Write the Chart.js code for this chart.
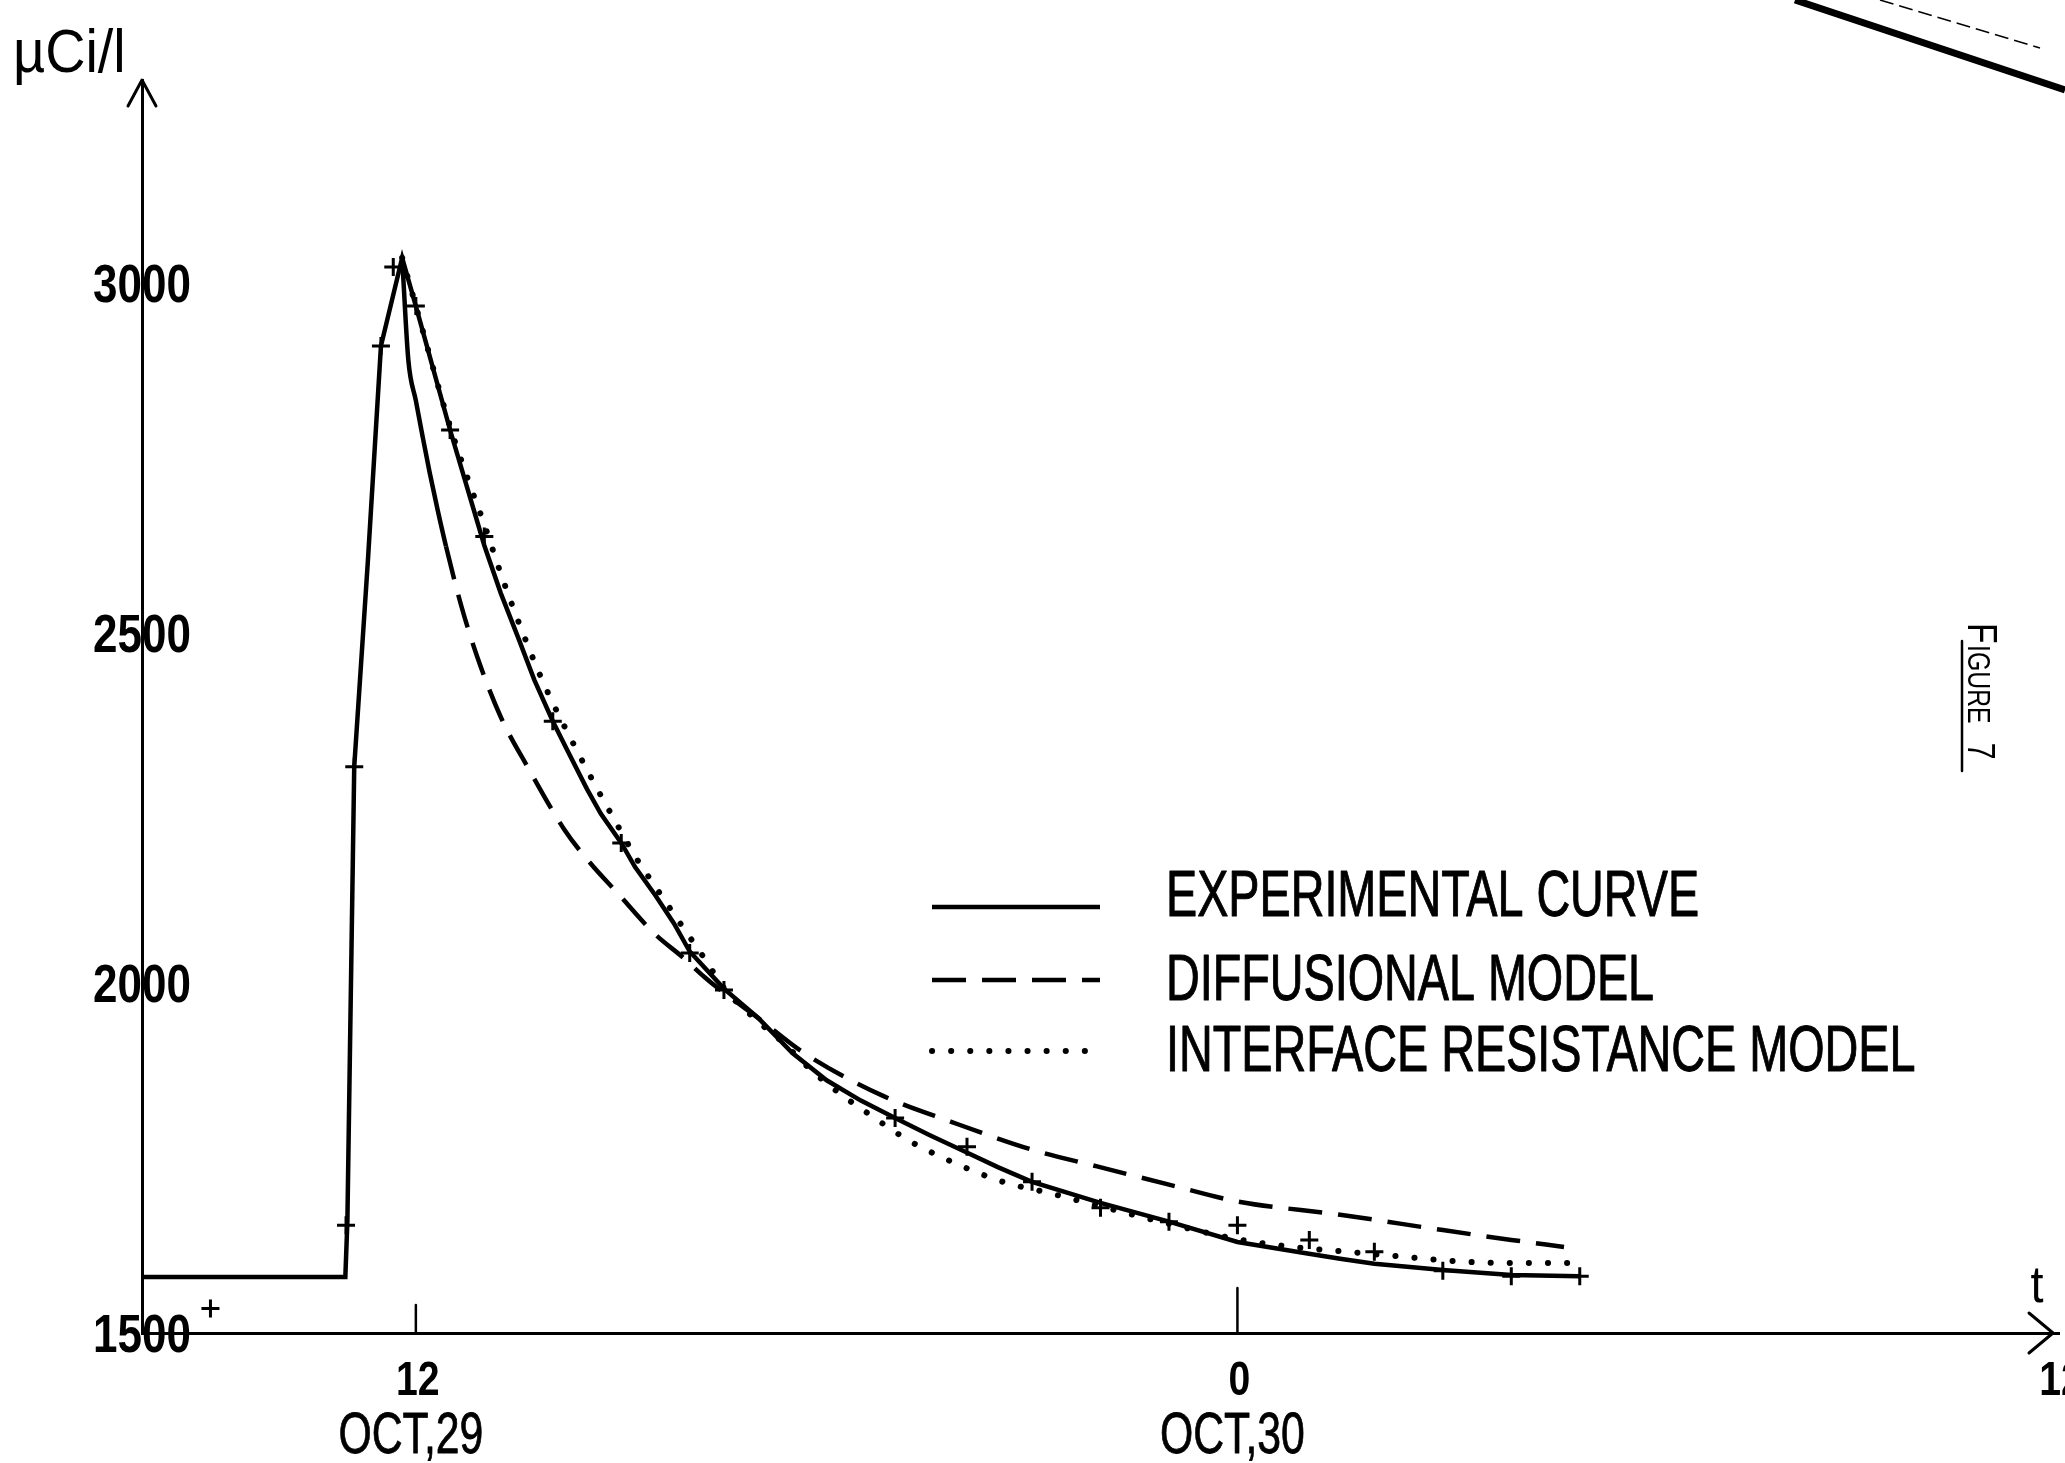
<!DOCTYPE html>
<html>
<head>
<meta charset="utf-8">
<title>Activity decay - Figure 7</title>
<script src="https://cdn.jsdelivr.net/npm/chart.js@4/dist/chart.umd.min.js"></script>
<style>
  html, body { margin: 0; padding: 0; background: #fff; }
  #wrap { position: relative; width: 2065px; height: 1463px; }
</style>
</head>
<body>
<div id="wrap"><canvas id="c" width="2065" height="1463"></canvas></div>
<script>
// Time in hours counted from Oct 29, 00:00; activity in µCi/l.
const expHours   = [8, 10.97, 11.0, 11.1, 11.3, 11.49, 11.8, 12.0, 12.5, 13.0, 13.24, 13.5, 13.73, 14.0, 14.21, 14.5, 14.7, 15.0, 15.2, 15.5, 15.77, 16.0, 16.5, 17.0, 17.5, 18.0, 18.5, 19.0, 19.5, 20.0, 20.5, 21.0, 22.0, 23.0, 24.0, 25.0, 25.5, 26.0, 27.0, 28.0, 29.0];
const expValues  = [1580, 1580, 1660, 2309, 2604, 2910, 3036, 2967, 2790, 2625, 2557, 2492, 2433, 2374, 2333, 2277, 2242, 2200, 2166, 2125, 2085, 2045, 1992, 1950, 1900, 1861, 1832, 1807, 1783, 1760, 1737, 1716, 1686, 1659, 1630, 1614, 1606, 1599, 1590, 1583, 1581];

const diffHours  = [11.8, 11.89, 12.0, 12.1, 12.2, 12.32, 12.44, 12.66, 12.9, 13.24, 13.63, 14.17, 14.55, 14.95, 15.48, 15.92, 16.21, 16.5, 17.0, 17.67, 18.84, 19.81, 21.03, 21.95, 23.0, 24.0, 25.5, 27.0, 28.0, 28.77];
const diffValues = [3036, 2890, 2832, 2780, 2730, 2675, 2624, 2540, 2465, 2380, 2309, 2219, 2171, 2128, 2071, 2035, 2009, 1986, 1950, 1900, 1838, 1802, 1761, 1738, 1712, 1688, 1669, 1647, 1633, 1623];

const ifaceHours = [11.8, 12.0, 12.5, 12.8, 13.0, 13.24, 13.48, 13.8, 14.02, 14.3, 14.59, 14.93, 15.19, 15.53, 15.87, 16.23, 16.5, 17.0, 17.35, 17.77, 18.18, 18.6, 19.2, 19.64, 20.13, 20.64, 21.25, 22.0, 23.0, 24.0, 24.8, 25.5, 26.3, 27.28, 28.07, 28.85];
const ifaceValues= [3036, 2967, 2795, 2709, 2655, 2585, 2521, 2443, 2396, 2342, 2288, 2228, 2183, 2133, 2084, 2033, 1993, 1945, 1916, 1876, 1843, 1814, 1775, 1753, 1732, 1714, 1700, 1681, 1656, 1634, 1623, 1617, 1610, 1602, 1600, 1600];

// Individual measurements, marked with crosses
const sampleHours  = [9.0, 10.98, 11.1, 11.49, 11.67, 12.0, 12.5, 13.0, 14.0, 15.0, 16.0, 16.5, 19.0, 20.05, 21.0, 22.0, 23.0, 24.0, 25.05, 26.0, 27.0, 28.0, 29.0];
const sampleValues = [1535, 1654, 2309, 2910, 3023, 2967, 2790, 2638, 2374, 2200, 2043, 1990, 1807, 1766, 1716, 1679, 1659, 1654, 1633, 1616, 1589, 1581, 1581];

const seriesNames = ['EXPERIMENTAL CURVE', 'DIFFUSIONAL MODEL', 'INTERFACE RESISTANCE MODEL'];
const xTickHours  = [12, 24, 36];
const yTickValues = [1500, 2000, 2500, 3000];
const dateTickHours = [12, 24];
const dateLabels    = ['OCT,29', 'OCT,30'];
const yUnit = '\u00B5Ci/l';
const xUnit = 't';
const figureTitle = 'FIGURE 7';

const PLAIN = "'Liberation Sans', 'DejaVu Sans', sans-serif";
const INK = '#000';

const pts = (xs, ys) => xs.map((x, i) => ({ x, y: ys[i] }));

// Draws text squeezed horizontally, like the condensed lettering of the drawing;
// an optional outline thickens the strokes a little.
function squeezed(ctx, text, x, y, font, sx, align, outline) {
  ctx.save();
  ctx.font = font;
  ctx.textAlign = align || 'left';
  ctx.textBaseline = 'alphabetic';
  ctx.translate(x, y);
  ctx.scale(sx, 1);
  ctx.fillText(text, 0, 0);
  if (outline) {
    ctx.lineWidth = outline;
    ctx.lineJoin = 'round';
    ctx.strokeText(text, 0, 0);
  }
  ctx.restore();
}

const annotations = {
  id: 'figureAnnotations',
  afterDraw(chart) {
    const { ctx, chartArea: a, scales: { x, y } } = chart;
    ctx.save();
    ctx.strokeStyle = INK;
    ctx.fillStyle = INK;
    ctx.lineCap = 'round';
    ctx.lineJoin = 'round';

    // arrow heads on both axes
    ctx.lineWidth = 3;
    ctx.beginPath();
    ctx.moveTo(a.left - 14, a.top + 26);
    ctx.lineTo(a.left, a.top);
    ctx.lineTo(a.left + 14, a.top + 26);
    ctx.stroke();
    const tipX = a.right - 6;
    ctx.beginPath();
    ctx.moveTo(tipX - 24, a.bottom - 20);
    ctx.lineTo(tipX, a.bottom);
    ctx.lineTo(tipX - 24, a.bottom + 20);
    ctx.stroke();

    // tick marks rising from the time axis
    const markLen = [28, 45];
    ctx.lineWidth = 2.5;
    dateTickHours.forEach((h, i) => {
      const px = x.getPixelForValue(h);
      ctx.beginPath();
      ctx.moveTo(px, a.bottom);
      ctx.lineTo(px, a.bottom - markLen[i]);
      ctx.stroke();
    });

    // value labels, centred on the vertical axis
    y.ticks.forEach(t => {
      squeezed(ctx, String(t.value), a.left, y.getPixelForValue(t.value) + 19, 'bold 53px ' + PLAIN, 0.83, 'center');
    });

    // hour-of-day labels under the time axis
    x.ticks.forEach(t => {
      squeezed(ctx, String(t.value % 24), x.getPixelForValue(t.value) + 2, a.bottom + 62, 'bold 49px ' + PLAIN, 0.8, 'center');
    });

    // dates under the hour labels
    dateTickHours.forEach((h, i) => {
      squeezed(ctx, dateLabels[i], x.getPixelForValue(h) - 5, 1453, '400 57px ' + PLAIN, 0.75, 'center', 0.8);
    });

    // axis units
    squeezed(ctx, yUnit, 13, 72, '400 62px ' + PLAIN, 0.9, 'left');
    squeezed(ctx, xUnit, 2037, 1302, '400 52px ' + PLAIN, 0.9, 'center');

    // legend built from the curve datasets
    const rows = [907, 980, 1051];
    chart.data.datasets.slice(0, 3).forEach((ds, i) => {
      ctx.save();
      ctx.lineWidth = ds.borderWidth;
      ctx.lineCap = ds.borderCapStyle || 'butt';
      ctx.setLineDash(ds.borderDash || []);
      ctx.beginPath();
      ctx.moveTo(932, rows[i]);
      ctx.lineTo(1100, rows[i]);
      ctx.stroke();
      ctx.restore();
      squeezed(ctx, ds.label, 1166, rows[i] + (i === 0 ? 9 : 20), '400 64px ' + PLAIN, 0.73, 'left', 1);
    });

    // figure caption, turned to run down the right margin
    ctx.save();
    ctx.translate(1968, 623);
    ctx.rotate(Math.PI / 2);
    ctx.textBaseline = 'alphabetic';
    ctx.save();
    ctx.scale(0.8, 1);
    ctx.font = '400 42px ' + PLAIN;
    ctx.fillText(figureTitle.charAt(0), 0, 0);
    const fw = ctx.measureText(figureTitle.charAt(0)).width;
    ctx.font = '400 31px ' + PLAIN;
    ctx.fillText(figureTitle.slice(1, 6), fw + 2, 0);
    const rw = ctx.measureText(figureTitle.slice(1, 6)).width;
    ctx.font = '400 38px ' + PLAIN;
    ctx.fillText(figureTitle.slice(7), fw + rw + 26, 0);
    ctx.restore();
    ctx.lineWidth = 2.5;
    ctx.beginPath();
    ctx.moveTo(18, 6);
    ctx.lineTo(148, 6);
    ctx.stroke();
    ctx.restore();

    // edge of the neighbouring drawing, top right
    ctx.lineCap = 'butt';
    ctx.lineWidth = 7;
    ctx.beginPath();
    ctx.moveTo(1795, 0);
    ctx.lineTo(2065, 90);
    ctx.stroke();
    ctx.lineWidth = 1.5;
    ctx.setLineDash([14, 6]);
    ctx.beginPath();
    ctx.moveTo(1880, 0);
    ctx.lineTo(2040, 48);
    ctx.stroke();

    ctx.restore();
  }
};

new Chart(document.getElementById('c'), {
  type: 'line',
  data: {
    datasets: [
      {
        label: seriesNames[0],
        data: pts(expHours, expValues),
        borderColor: INK,
        borderWidth: 4.5,
        pointRadius: 0,
        tension: 0,
        fill: false
      },
      {
        label: seriesNames[1],
        data: pts(diffHours, diffValues),
        borderColor: INK,
        borderWidth: 4.5,
        borderDash: [34, 16],
        pointRadius: 0,
        cubicInterpolationMode: 'monotone',
        fill: false,
        segment: {
          // the model curve leaves the peak as one unbroken stroke
          borderDash: c => (diffHours[c.p0DataIndex] < 12.4 ? [] : [34, 16])
        }
      },
      {
        label: seriesNames[2],
        data: pts(ifaceHours, ifaceValues),
        borderColor: INK,
        borderWidth: 6,
        borderDash: [0.1, 19],
        borderCapStyle: 'round',
        pointRadius: 0,
        cubicInterpolationMode: 'monotone',
        fill: false
      },
      {
        label: 'measurements',
        data: pts(sampleHours, sampleValues),
        showLine: false,
        pointStyle: 'cross',
        pointRadius: 9,
        pointBorderWidth: 3,
        pointBorderColor: INK,
        pointBackgroundColor: INK
      }
    ]
  },
  options: {
    responsive: false,
    animation: false,
    events: [],
    layout: { padding: { left: 142, right: 6, top: 80, bottom: 0 }, autoPadding: false },
    plugins: { legend: { display: false }, tooltip: { enabled: false }, title: { display: false } },
    scales: {
      x: {
        type: 'linear',
        min: 8,
        max: 36,
        afterBuildTicks: s => { s.ticks = xTickHours.map(v => ({ value: v })); },
        afterFit: s => { s.height = 130; s.paddingLeft = 0; s.paddingRight = 0; },
        grid: { display: false, drawTicks: false },
        border: { display: true, color: INK, width: 3 },
        ticks: { display: false }
      },
      y: {
        type: 'linear',
        min: 1500,
        max: 3290,
        afterBuildTicks: s => { s.ticks = yTickValues.map(v => ({ value: v })); },
        afterFit: s => { s.width = 0; s.paddingTop = 0; s.paddingBottom = 0; },
        grid: { display: false, drawTicks: false },
        border: { display: true, color: INK, width: 3 },
        ticks: { display: false }
      }
    }
  },
  plugins: [annotations]
});
</script>
</body>
</html>
